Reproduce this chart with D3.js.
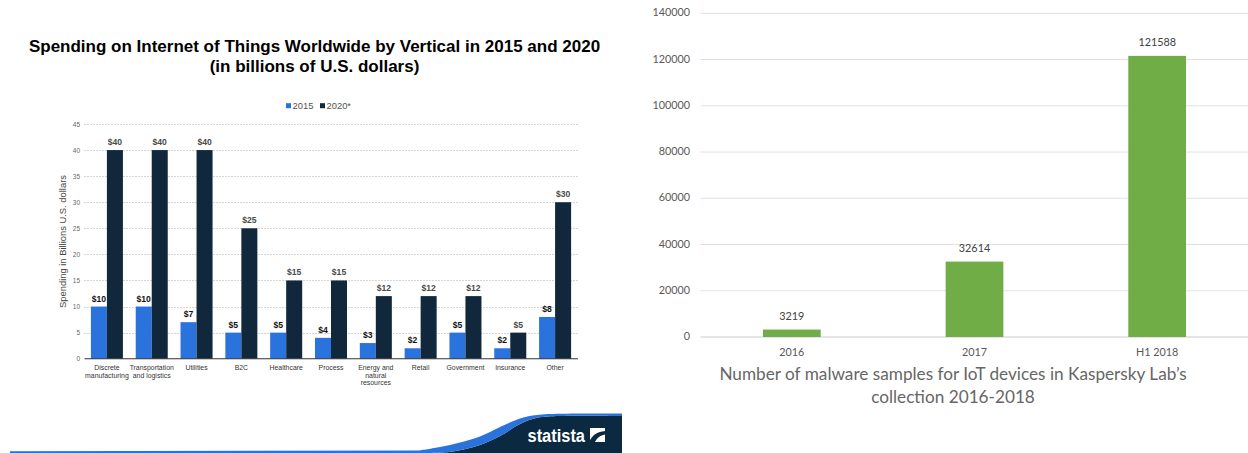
<!DOCTYPE html>
<html>
<head>
<meta charset="utf-8">
<script src="https://cdn.jsdelivr.net/npm/d3@7/dist/d3.min.js"></script>
<style>
  html, body { margin: 0; padding: 0; background: #fff; }
  svg { display: block; }
  .sans { font-family: "Liberation Sans", Arial, sans-serif; }
  .lato { font-family: Lato, sans-serif; }
</style>
</head>
<body>
<svg id="chart" width="1248" height="453"></svg>
<script>
// Spending by vertical
const verticals = [
  ["Discrete", "manufacturing"],
  ["Transportation", "and logistics"],
  ["Utilities"],
  ["B2C"],
  ["Healthcare"],
  ["Process"],
  ["Energy and", "natural", "resources"],
  ["Retail"],
  ["Government"],
  ["Insurance"],
  ["Other"]
];
const spendingSeries = ["2015", "2020*"];
const spending2015 = [10, 10, 7, 5, 5, 4, 3, 2, 5, 2, 8];
const spending2020 = [40, 40, 40, 25, 15, 15, 12, 12, 12, 5, 30];
const spendingTicks = [0, 5, 10, 15, 20, 25, 30, 35, 40, 45];

// Malware samples by period
const periods = ["2016", "2017", "H1 2018"];
const malwareSamples = [3219, 32614, 121588];
const malwareTicks = [0, 20000, 40000, 60000, 80000, 100000, 120000, 140000];

const svg = d3.select("#chart");

/* ---------- Left panel: IoT spending ---------- */
const left = svg.append("g").attr("class", "sans");

left.append("text")
  .attr("text-anchor", "middle").attr("font-weight", "bold")
  .attr("font-size", 17).attr("fill", "#000")
  .selectAll("tspan")
  .data(["Spending on Internet of Things Worldwide by Vertical in 2015 and 2020",
         "(in billions of U.S. dollars)"])
  .join("tspan")
  .attr("x", 314.5).attr("y", (d, i) => 52 + i * 19.5)
  .text(d => d);

const yLeft = d3.scaleLinear().domain([0, 45]).range([358.7, 124]);
const xGroup = d3.scaleBand().domain(d3.range(verticals.length)).range([84.5, 577.5]);
const xSeries = d3.scaleBand().domain(spendingSeries).range([0, xGroup.bandwidth()])
  .paddingInner(0).paddingOuter(0.4);
const seriesColor = d3.scaleOrdinal(spendingSeries, ["#2a72dc", "#10273c"]);
const labelColor = d3.scaleOrdinal(spendingSeries, ["#111", "#4a4a4a"]);

// Dotted gridlines and value axis
left.append("g").selectAll("line")
  .data(spendingTicks.filter(t => t > 0))
  .join("line")
  .attr("x1", 84.5).attr("x2", 578)
  .attr("y1", d => Math.round(yLeft(d)) + 0.5).attr("y2", d => Math.round(yLeft(d)) + 0.5)
  .attr("stroke", "#aaa").attr("stroke-width", 1).attr("stroke-dasharray", "1 2");

const yAxisLeft = left.append("g").attr("transform", "translate(80,0)")
  .call(d3.axisLeft(yLeft).tickValues(spendingTicks).tickSize(0).tickPadding(0));
yAxisLeft.select(".domain").remove();
yAxisLeft.selectAll("text").attr("font-size", 6.5).attr("fill", "#666")
  .attr("font-family", "Liberation Sans, Arial, sans-serif");

left.append("text")
  .attr("transform", "translate(66,241.5) rotate(-90)")
  .attr("text-anchor", "middle").attr("font-size", 9.4).attr("fill", "#444")
  .text("Spending in Billions U.S. dollars");

// Bars, with each series' labels under the following series
[spending2015, spending2020].forEach((values, s) => {
  const name = spendingSeries[s];
  const g = left.append("g");
  g.selectAll("text")
    .data(values).join("text")
    .attr("x", (d, i) => xGroup(i) + xSeries(name) + xSeries.bandwidth() / 2)
    .attr("y", d => yLeft(d) - 5)
    .attr("text-anchor", "middle").attr("font-size", 8.6).attr("font-weight", "bold")
    .attr("fill", labelColor(name))
    .text(d => "$" + d);
  g.selectAll("rect")
    .data(values).join("rect")
    .attr("x", (d, i) => xGroup(i) + xSeries(name))
    .attr("width", xSeries.bandwidth())
    .attr("y", d => yLeft(d))
    .attr("height", d => yLeft(0) - yLeft(d))
    .attr("fill", seriesColor(name));
});

left.append("line")
  .attr("x1", 84.5).attr("x2", 578)
  .attr("y1", yLeft(0)).attr("y2", yLeft(0))
  .attr("stroke", "#333").attr("stroke-width", 1.1);

// Category labels
left.append("g").selectAll("text")
  .data(verticals).join("text")
  .attr("text-anchor", "middle").attr("font-size", 6.9).attr("fill", "#333")
  .each(function (lines, i) {
    d3.select(this).selectAll("tspan").data(lines).join("tspan")
      .attr("x", xGroup(i) + xGroup.bandwidth() / 2)
      .attr("y", (d, k) => 369.8 + k * 7.7)
      .text(d => d);
  });

// Legend
const legend = left.append("g");
const legendX = d3.scaleOrdinal(spendingSeries, [286, 320]);
legend.selectAll("rect").data(spendingSeries).join("rect")
  .attr("x", d => legendX(d)).attr("y", 103.2)
  .attr("width", 5).attr("height", 5)
  .attr("fill", d => seriesColor(d));
legend.selectAll("text").data(spendingSeries).join("text")
  .attr("x", d => legendX(d) + 6.5).attr("y", 109.2)
  .attr("font-size", 9.4).attr("fill", "#555")
  .text(d => d);

// Publisher banner along the bottom edge: a blue swoosh over a navy block
const bannerCurve = d3.line().curve(d3.curveCatmullRom.alpha(0.5));
const swooshTop = [[420, 450.4], [440, 447], [460, 442.5], [480, 436.5], [500, 427], [520, 418.5], [537, 415], [560, 413.8], [622, 413.6]];
const swooshBottom = [[622, 416], [560, 416], [537, 417.8], [520, 424], [500, 436], [480, 445], [453, 451.5], [425, 453]];
const banner = svg.append("g");
banner.append("path")
  .attr("d", bannerCurve(swooshBottom.slice().reverse()) + "L622,453L425,453Z")
  .attr("fill", "#0b2a42");
banner.append("path")
  .attr("d", "M10,451.2L420,450.4" + bannerCurve(swooshTop).replace(/^M/, "L") + bannerCurve(swooshBottom).replace(/^M/, "L") + "L10,453Z")
  .attr("fill", "#2a72dc");
banner.append("text")
  .attr("class", "sans")
  .attr("x", 527.5).attr("y", 442)
  .attr("font-size", 18).attr("font-weight", "bold").attr("fill", "#fff")
  .attr("textLength", 57.5).attr("lengthAdjust", "spacingAndGlyphs")
  .text("statista");
banner.append("rect").attr("x", 590).attr("y", 428).attr("width", 15).attr("height", 14).attr("fill", "#fff");
banner.append("path")
  .attr("d", "M590,440 C594,434 597,432 605,431 L605,434.5 C600,435.5 598,437 595,442 L590,442 Z")
  .attr("fill", "#0b2a42");

/* ---------- Right panel: malware samples ---------- */
const right = svg.append("g").attr("class", "lato");

const yRight = d3.scaleLinear().domain([0, 140000]).range([337, 13.3]);
const xRight = d3.scaleBand().domain(periods).range([700.5, 1248.5]).paddingInner(0.684).paddingOuter(0.342);

right.append("g").selectAll("line")
  .data(malwareTicks).join("line")
  .attr("x1", 700.5).attr("x2", 1248)
  .attr("y1", d => yRight(d)).attr("y2", d => yRight(d))
  .attr("stroke", d => d === 0 ? "#dcdcdc" : "#e2e2e2")
  .attr("stroke-width", d => d === 0 ? 1.6 : 1);

const yAxisRight = right.append("g").attr("transform", "translate(690,-0.8)")
  .call(d3.axisLeft(yRight).tickValues(malwareTicks).tickFormat(d3.format("d")).tickSize(0).tickPadding(0));
yAxisRight.select(".domain").remove();
yAxisRight.selectAll("text").attr("font-size", 10.8).attr("fill", "#595959")
  .attr("font-family", "Lato, sans-serif");

right.append("g").selectAll("rect")
  .data(malwareSamples).join("rect")
  .attr("x", (d, i) => xRight(periods[i]))
  .attr("width", xRight.bandwidth())
  .attr("y", d => yRight(d))
  .attr("height", d => yRight(0) - yRight(d))
  .attr("fill", "#70ad47");

right.append("g").selectAll("text")
  .data(malwareSamples).join("text")
  .attr("x", (d, i) => xRight(periods[i]) + xRight.bandwidth() / 2)
  .attr("y", d => yRight(d) - 10)
  .attr("text-anchor", "middle").attr("font-size", 10.8).attr("fill", "#404040")
  .text(d => d);

const xAxisRight = right.append("g").attr("transform", "translate(0,337)")
  .call(d3.axisBottom(xRight).tickSize(0).tickPadding(11));
xAxisRight.select(".domain").remove();
xAxisRight.selectAll("text").attr("font-size", 10.8).attr("fill", "#595959")
  .attr("font-family", "Lato, sans-serif");

right.append("text")
  .attr("text-anchor", "middle").attr("font-size", 17.2).attr("fill", "#666")
  .selectAll("tspan")
  .data(["Number of malware samples for IoT devices in Kaspersky Lab\u2019s",
         "collection 2016-2018"])
  .join("tspan")
  .attr("x", 953).attr("y", (d, i) => 379.5 + i * 23.5)
  .text(d => d);
</script>
</body>
</html>
